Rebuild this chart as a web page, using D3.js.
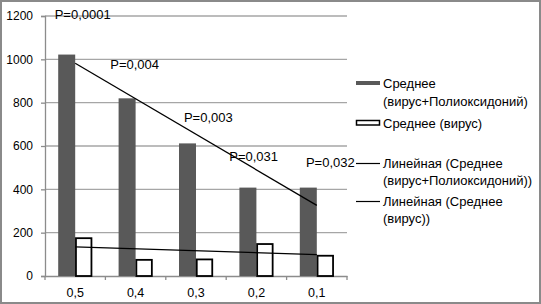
<!DOCTYPE html>
<html><head><meta charset="utf-8">
<script src="https://cdn.jsdelivr.net/npm/d3@7"></script>
<style>body{margin:0;background:#fff}svg{display:block;font-family:"Liberation Sans",Arial,sans-serif}</style>
</head><body>
<svg id="c" width="541" height="304"></svg>
<script>
const categories = ["0,5","0,4","0,3","0,2","0,1"];
const seriesNames = ["Среднее (вирус+Полиоксидоний)","Среднее (вирус)"];
const meanCombined = [1022, 820, 612, 408, 408];
const meanVirus = [178, 78, 80, 151, 97];
const yTicks = [0,200,400,600,800,1000,1200];
const pLabels = ["P=0,0001","P=0,004","P=0,003","P=0,031","P=0,032"];
// annotation anchors in data space: [category index (fractional), value]
const pAnchors = [[0.16,1205],[1.08,975],[2.3,730],[3.05,550],[4.32,525]];

const svg = d3.select("#c");
svg.append("rect").attr("x",1).attr("y",1).attr("width",539).attr("height",302)
  .attr("fill","#fff").attr("stroke","#8a8a8a").attr("stroke-width",2);

const L=45, R=347, T=16, B=276;
const x = d3.scaleBand().domain(categories).range([L,R]).padding(0);
const y = d3.scaleLinear().domain([0,1200]).range([B,T]);
const xi = d3.scaleLinear().domain([0,categories.length]).range([L,R]);

// gridlines
svg.append("g").selectAll("line").data(yTicks.filter(d=>d>0)).join("line")
  .attr("x1",L).attr("x2",R).attr("y1",d=>y(d)).attr("y2",d=>y(d))
  .attr("stroke","#a6a6a6").attr("stroke-width",1.3);

// y axis
const ya = svg.append("g").attr("transform",`translate(${L},0)`)
  .call(d3.axisLeft(y).tickValues(yTicks).tickSize(4).tickPadding(8).tickFormat(d3.format("d")));
ya.select(".domain").attr("stroke","#8c8c8c").attr("stroke-width",1.3);
ya.selectAll(".tick line").attr("stroke","#8c8c8c").attr("stroke-width",1.3);
ya.selectAll("text").attr("font-size",12).attr("fill","#000");

// x axis
const xa = svg.append("g").attr("transform",`translate(0,${B})`)
  .call(d3.axisBottom(x).tickSize(0).tickPadding(12));
xa.select(".domain").attr("stroke","#8c8c8c").attr("stroke-width",1.3);
xa.selectAll("text").attr("font-size",12.5).attr("fill","#000");
xa.append("g").selectAll("line").data(d3.range(categories.length+1)).join("line")
  .attr("x1",d=>xi(d)).attr("x2",d=>xi(d)).attr("y1",0).attr("y2",4)
  .attr("stroke","#8c8c8c").attr("stroke-width",1.3);

const inner = d3.scaleBand().domain([0,1]).range([-17,17]);
const center = c => x(c)+x.bandwidth()/2;

// bars
svg.append("g").selectAll("rect").data(categories).join("rect")
  .attr("x",c=>center(c)+inner(0)).attr("width",inner.bandwidth())
  .attr("y",(c,i)=>y(meanCombined[i])).attr("height",(c,i)=>B-y(meanCombined[i]))
  .attr("fill","#595959");
svg.append("g").selectAll("rect").data(categories).join("rect")
  .attr("x",c=>center(c)+inner(1)+0.75).attr("width",inner.bandwidth()-1.5)
  .attr("y",(c,i)=>y(meanVirus[i])+0.75).attr("height",(c,i)=>B-y(meanVirus[i])-0.75)
  .attr("fill","#fff").attr("stroke","#000").attr("stroke-width",1.8);

// linear trendlines
function trend(vals){
  const n=vals.length, xs=d3.range(1,n+1);
  const mx=d3.mean(xs), my=d3.mean(vals);
  const s=d3.sum(xs,(v,i)=>(v-mx)*(vals[i]-my))/d3.sum(xs,v=>(v-mx)**2);
  return xs.map(v=>my+s*(v-mx));
}
[meanCombined, meanVirus].forEach(vals=>{
  const t=trend(vals);
  svg.append("line")
    .attr("x1",center(categories[0])).attr("y1",y(t[0]))
    .attr("x2",center(categories[categories.length-1])).attr("y2",y(t[t.length-1]))
    .attr("stroke","#000").attr("stroke-width",1.3);
});

// P labels
svg.append("g").selectAll("text").data(pLabels).join("text")
  .attr("x",(d,i)=>xi(pAnchors[i][0])).attr("y",(d,i)=>y(pAnchors[i][1]))
  .attr("dy","0.35em").attr("font-size",13).attr("fill","#000").text(d=>d);

// legend
const lg = svg.append("g").attr("font-size",13).attr("fill","#000");
const LX=356, TX=383;
lg.append("rect").attr("x",LX).attr("y",81).attr("width",24).attr("height",4).attr("fill","#595959");
lg.append("text").attr("x",TX).attr("y",83).attr("dy","0.35em").text("Среднее");
lg.append("text").attr("x",TX).attr("y",101).attr("dy","0.35em").text("(вирус+Полиоксидоний)");
lg.append("rect").attr("x",LX+0.5).attr("y",120.5).attr("width",23).attr("height",4.5)
  .attr("fill","#fff").attr("stroke","#000").attr("stroke-width",1.5);
lg.append("text").attr("x",TX).attr("y",123).attr("dy","0.35em").text("Среднее (вирус)");
lg.append("line").attr("x1",LX).attr("x2",LX+24).attr("y1",163.5).attr("y2",163.5).attr("stroke","#000").attr("stroke-width",1.2);
lg.append("text").attr("x",TX).attr("y",163).attr("dy","0.35em").text("Линейная (Среднее");
lg.append("text").attr("x",TX).attr("y",180).attr("dy","0.35em").text("(вирус+Полиоксидоний))");
lg.append("line").attr("x1",LX).attr("x2",LX+24).attr("y1",201.5).attr("y2",201.5).attr("stroke","#000").attr("stroke-width",1.2);
lg.append("text").attr("x",TX).attr("y",201).attr("dy","0.35em").text("Линейная (Среднее");
lg.append("text").attr("x",TX).attr("y",218).attr("dy","0.35em").text("(вирус))");
</script>
</body></html>
